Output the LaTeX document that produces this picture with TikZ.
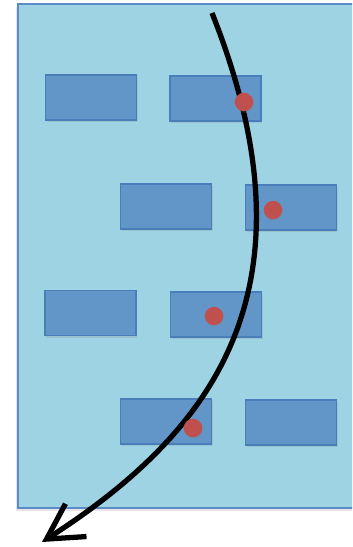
\documentclass[tikz,border=0pt]{standalone}
\usetikzlibrary{arrows.meta,shadows}
\definecolor{paneblue}{RGB}{158,211,228}
\definecolor{paneedge}{RGB}{92,140,200}
\definecolor{boxblue}{RGB}{98,150,200}
\definecolor{boxedge}{RGB}{74,126,187}
\definecolor{dotred}{RGB}{192,80,77}

\begin{document}
\begin{tikzpicture}[x=0.02cm, y=-0.02cm,
    bluebox/.style={draw=boxedge, fill=boxblue, line width=0.9pt, rectangle,
        minimum width=1.82cm, minimum height=0.9cm, inner sep=0pt,
        drop shadow={opacity=0.2, shadow xshift=0.6pt, shadow yshift=-1.2pt}},
    reddot/.style={fill=dotred, circle, minimum size=0.37cm, inner sep=0pt,
        drop shadow={opacity=0.2, shadow xshift=0.5pt, shadow yshift=-1pt}}]

    \useasboundingbox (0,0) rectangle (352,547);
    \clip (0,0) rectangle (352,547);

    % hintergrund
    \draw[draw=paneedge, fill=paneblue, line width=0.9pt,
        drop shadow={opacity=0.2, shadow xshift=-1pt, shadow yshift=-1.5pt}]
        (18,4) rectangle (360,508);

    % vier reihen mit je zwei kaesten
    \node[bluebox] (r1a) at (91,97.5) {};
    \node[bluebox] (r1b) at (215.5,98.5) {};
    \node[bluebox] (r2a) at (166,206.5) {};
    \node[bluebox] (r2b) at (291,207.5) {};
    \node[bluebox] (r3a) at (90.5,313) {};
    \node[bluebox] (r3b) at (216,314.5) {};
    \node[bluebox] (r4a) at (166,421.5) {};
    \node[bluebox] (r4b) at (291,422.5) {};

    % gebogener pfeil
    \coordinate (top) at (212,13);
    \coordinate (tip) at (42,542);
    \draw[line width=3pt, -{Straight Barb[length=0.7cm, width=0.78cm, line width=3pt]}]
        (top) .. controls (323,292) and (210,434) .. (tip);

    % rote punkte (ueber dem pfeil)
    \node[reddot] (d1) at (244,102) {};
    \node[reddot] (d2) at (273,210) {};
    \node[reddot] (d3) at (214,316) {};
    \node[reddot] (d4) at (193,428) {};
\end{tikzpicture}
\end{document}
